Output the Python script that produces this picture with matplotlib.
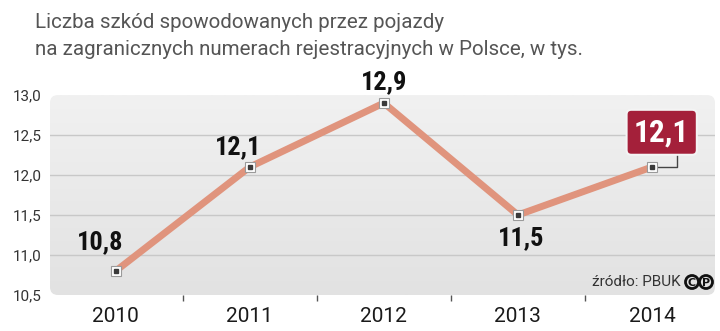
import numpy as np
import matplotlib
matplotlib.use("Agg")
from matplotlib import pyplot as plt
from matplotlib import font_manager
from matplotlib.patches import FancyBboxPatch, Ellipse

years = ["2010", "2011", "2012", "2013", "2014"]
values = [10.8, 12.1, 12.9, 11.5, 12.1]
y_ticks = [10.5, 11.0, 11.5, 12.0, 12.5, 13.0]
title = "Liczba szkód spowodowanych przez pojazdy\nna zagranicznych numerach rejestracyjnych w Polsce, w tys."
source = "źródło: PBUK"


def pick_font(names):
    installed = {f.name for f in font_manager.fontManager.ttflist}
    for n in names:
        if n in installed:
            return n
    return "DejaVu Sans"


narrow = pick_font(["Liberation Sans Narrow", "Roboto Condensed", "DejaVu Sans"])
light = pick_font(["Roboto", "Open Sans", "DejaVu Sans"])

fig = plt.figure(figsize=(7.2, 3.31), dpi=100)
ax = fig.add_axes([50 / 720, 36 / 331, 665 / 720, 200 / 331])
x = np.arange(len(years))
ax.set_xlim(-0.49, 4.47)
ax.set_ylim(10.5, 13.0)

# panel with gradient
panel = FancyBboxPatch((0, 0), 1, 1, boxstyle="round,pad=0,rounding_size=0.012",
                       mutation_aspect=665 / 200, transform=ax.transAxes,
                       facecolor="none", edgecolor="none")
ax.add_patch(panel)
grad = np.linspace(0, 1, 100).reshape(-1, 1)
img = ax.imshow(grad, extent=[-0.49, 4.47, 10.5, 13.0], aspect="auto",
                cmap=matplotlib.colors.LinearSegmentedColormap.from_list("g", ["#e2e2e2", "#f1f1f1"]),
                origin="lower", zorder=0)
img.set_clip_path(panel)

for yv in y_ticks[1:-1]:
    ax.axhline(yv, color="#c8c8c8", lw=1.0, zorder=1)

for s in ax.spines.values():
    s.set_visible(False)

ax.plot(x, values, color="#e0947d", lw=5, solid_capstyle="round", zorder=3)

# connector for the highlighted value (pixel offsets from the point)
conn = ax.transData.transform((x[4], values[4]))
ax.plot([conn[0], conn[0] + 25, conn[0] + 25], [conn[1], conn[1], conn[1] + 16],
        transform=None, color="#444444", lw=1, zorder=4)

ax.plot(x, values, ls="none", marker="s", ms=7, mfc="white", mec="#9a9a9a", mew=0.8, zorder=5)
ax.plot(x, values, ls="none", marker="s", ms=3, color="#3a3a3a", zorder=6)

ax.set_yticks(y_ticks)
ax.set_yticklabels([f"{v:.1f}".replace(".", ",") for v in y_ticks],
                   fontsize=11, color="#333333", family=light)
ax.tick_params(axis="y", length=0, pad=6)
ax.set_xticks(x)
ax.set_xticklabels(years, fontsize=15, color="#1a1a1a", family=light)
ax.tick_params(axis="x", length=0, pad=9)
ax.set_xticks(x[:-1] + 0.5, minor=True)
ax.tick_params(axis="x", which="minor", length=4, width=1, color="#555555",
               direction="out", pad=0)

# data labels (offsets in points)
offsets = [(-11.5, 21), (-8.5, 14.5), (0, 15), (2, -17)]
for i in range(4):
    ax.annotate(f"{values[i]:.1f}".replace(".", ","), (x[i], values[i]),
                xytext=offsets[i], textcoords="offset points", ha="center", va="center",
                fontsize=19, fontweight="bold", color="#111111", family=narrow, zorder=7)

# highlighted last value
ax.annotate(f"{values[4]:.1f}".replace(".", ","), (x[4], values[4]),
            xytext=(7, 25), textcoords="offset points", ha="center", va="center",
            fontsize=22.5, fontweight="bold", color="white", family=narrow, zorder=8,
            bbox=dict(boxstyle="round,pad=0.24,rounding_size=0.15", fc="#a4203a",
                      ec="#f4f4f4", lw=1.5))

# source
fig.text(681 / 720, 1 - 282 / 331, source, ha="right", va="center",
         fontsize=11, color="#333333", family=light)
for cx, ch in [(692, "C"), (706, "P")]:
    fig.patches.append(Ellipse((cx / 720, 1 - 282 / 331), 13 / 720, 13 / 331,
                               transform=fig.transFigure, fc="none", ec="#111111", lw=2))
    fig.text(cx / 720, 1 - 282.5 / 331, ch, ha="center", va="center", fontsize=8,
             fontweight="bold", color="#111111", family="DejaVu Sans")

fig.text(35 / 720, 1 - 13 / 331, title, ha="left", va="top", fontsize=14.8,
         color="#555555", family=light, linespacing=1.55)

fig.savefig("out.png", dpi=100, facecolor="white")
